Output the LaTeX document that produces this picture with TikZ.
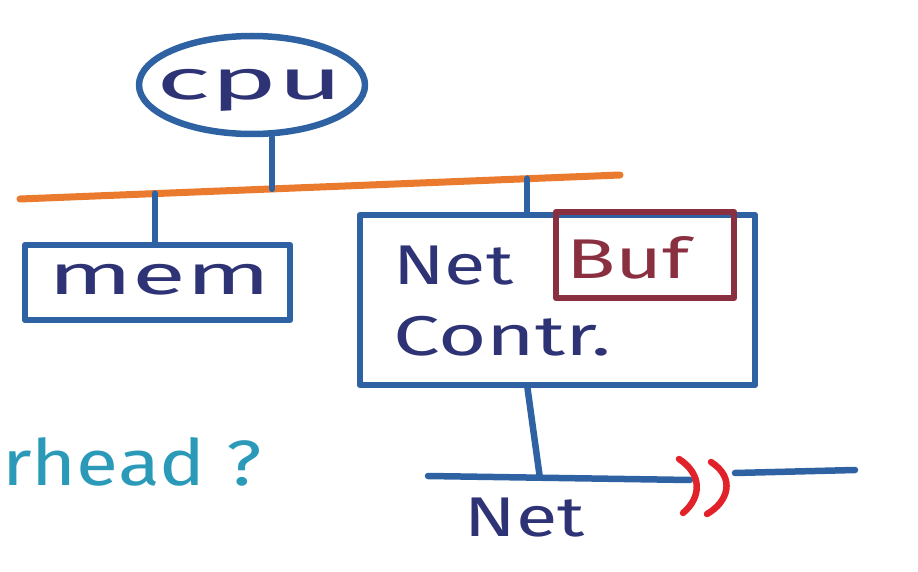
\documentclass[tikz,border=0pt]{standalone}
\usepackage{fontspec}
\setmainfont{Fira Sans}
\usetikzlibrary{shapes.geometric}
\definecolor{pen}{HTML}{2F62A3}
\definecolor{ink}{HTML}{2E3375}
\definecolor{buscol}{HTML}{E97A2E}
\definecolor{bufcol}{HTML}{8A2F40}
\definecolor{redpen}{HTML}{E1222B}
\definecolor{tealpen}{HTML}{2B9AB9}
\begin{document}
\begin{tikzpicture}[x=1pt,y=-1pt,line cap=round,line join=round,
  wire/.style={draw=pen,line width=6.5pt},
  box/.style={draw=pen,line width=6.5pt,rectangle,inner sep=0pt},
  hand/.style={text=ink,font=\fontsize{56}{56}\selectfont,inner sep=0pt,xscale=1.35,transform shape}]
\useasboundingbox (0,0) rectangle (918,572);
% CPU
\node[draw=pen,line width=6.5pt,ellipse,minimum width=226pt,minimum height=98pt,inner sep=0pt] (cpu) at (252,85) {};
\node[hand,font=\fontsize{56}{56}\selectfont,xscale=1.5] (cputext) at (250,90) {cpu};
% bus
\draw[draw=buscol,line width=7pt] (20,199) coordinate (busL) -- (620,175) coordinate (busR)
  coordinate[pos=0.42] (tcpu) coordinate[pos=0.225] (tmem) coordinate[pos=0.845] (tnet);
% memory
\node[box,minimum width=265pt,minimum height=75pt] (mem) at (157.5,282.5) {};
\node[hand,anchor=west,xscale=1.3] (memtext) at (48,280) {mem};
% net controller
\node[box,minimum width=395pt,minimum height=170pt] (netc) at (557.5,300) {};
\node[draw=bufcol,line width=6.5pt,rectangle,inner sep=0pt,minimum width=178pt,minimum height=86pt] (buf) at (645,255) {};
\node[text=bufcol,font=\fontsize{56}{56}\selectfont,inner sep=0pt,xscale=1.45,transform shape] (buftext) at (628,258) {Buf};
\node[hand,anchor=west] (nettext) at (393,266) {Net};
\node[hand,anchor=west,xscale=1.1] (contrtext) at (393,336) {Contr.};
% connectors to bus
\draw[wire] (tcpu |- cpu.south) -- (tcpu);
\draw[wire] (tmem) -- (tmem |- mem.north);
\draw[wire] (tnet) -- (tnet |- netc.north);
% network line
\draw[wire] (428,476) coordinate (netL) -- (690,480) coordinate (netR)
  coordinate[pos=0.427] (netJ);
\draw[wire] ([xshift=-30pt]netc.south) -- (netJ);
\draw[draw=redpen,line width=6.5pt] (679,459) .. controls (702,474) and (702,497) .. (683,513);
\draw[draw=redpen,line width=6.5pt] (711,462) .. controls (736,478) and (728,502) .. (707,514);
\draw[wire] (735,473) coordinate (farL) -- (855,470) coordinate (farR);
\node[hand] (netlabel) at (525,518) {Net};
% question
\node[text=tealpen,font=\fontsize{64}{64}\selectfont,inner sep=0pt,anchor=west,xscale=1.2,transform shape] (q) at (2,462) {rhead ?};
\end{tikzpicture}
\end{document}
